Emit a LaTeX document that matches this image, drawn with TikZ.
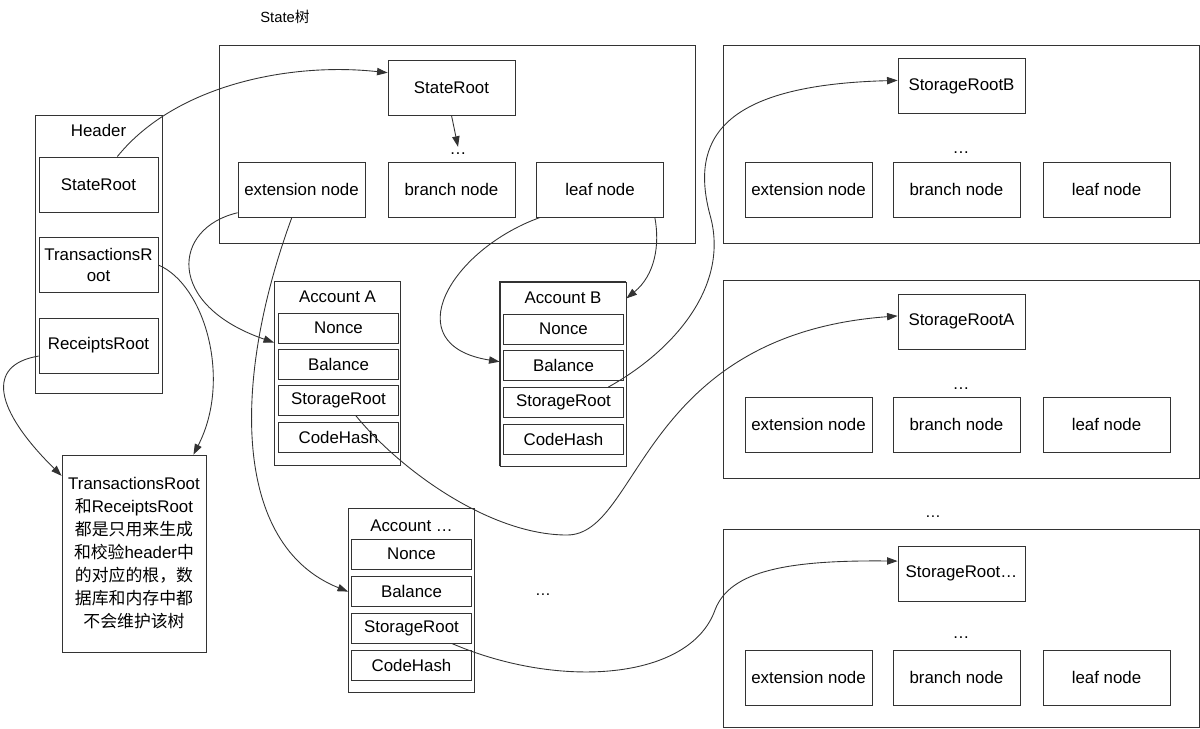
\documentclass[tikz,border=0pt]{standalone}
\usepackage{fontspec}
\setmainfont{Liberation Sans}
\newfontfamily\zhfont{Noto Sans CJK SC}
\usetikzlibrary{arrows.meta}

\tikzset{
  tnode/.style={draw, minimum width=2.54cm, minimum height=1.1cm, inner sep=0pt},
  fld/.style={draw, minimum width=2.4cm, minimum height=0.6cm, inner sep=0pt},
  grp/.style={draw, inner sep=0pt},
  acct/.style={grp, minimum width=2.52cm, minimum height=3.68cm},
  trie/.style={grp, minimum width=9.52cm, minimum height=3.96cm},
  arr/.style={-{Triangle[length=6pt,width=4.2pt]}},
}

\begin{document}
\begin{tikzpicture}[x=0.02cm, y=-0.02cm, line width=0.5pt, draw=black!80, font=\fontsize{9.6}{11.5}\selectfont]
  \useasboundingbox (0,0) rectangle (1200,728);

  % State tree
  \node[font=\fontsize{8.4}{10}\selectfont] (statelbl) at (285,17) {State{\zhfont 树}};
  \node[trie] (statetree) at (457,144) {};
  \node[tnode] (ssr) at (451.5,87.5) {StateRoot};
  \node (sdots) at (458,154) {\dots};
  \node[tnode] (sext) at (301.5,189.5) {extension node};
  \node[tnode] (sbr) at (451.5,189.5) {branch node};
  \node[tnode] (sleaf) at (600,189.5) {leaf node};

  % Header
  \node[grp, minimum width=2.54cm, minimum height=5.56cm] (header) at (98.5,254) {};
  \node (headerlbl) at (98.5,130) {Header};
  \node[fld, minimum width=2.38cm, minimum height=1.1cm] (hsr) at (98.5,184.5) {StateRoot};
  \node[fld, minimum width=2.38cm, minimum height=1.1cm, align=center] (htr) at (98.5,265) {TransactionsR\\oot};
  \node[fld, minimum width=2.38cm, minimum height=1.1cm] (hrr) at (98.5,345.5) {ReceiptsRoot};

  \node[grp, minimum width=2.88cm, minimum height=3.94cm, align=center, font=\fontsize{9.6}{13.1}\selectfont] (note) at (134,553.5)
    {TransactionsRoot\\{\zhfont 和}ReceiptsRoot\\{\zhfont 都是只用来生成}\\{\zhfont 和校验}header{\zhfont 中}\\{\zhfont 的对应的根，数}\\{\zhfont 据库和内存中都}\\{\zhfont 不会维护该树}};

  % Accounts
  \node[acct] (acta) at (337.5,373.5) {};
  \node (actalbl) at (337.5,297) {Account A};
  \node[fld] (anonce) at (338.5,328) {Nonce};
  \node[fld] (abal) at (338.5,364) {Balance};
  \node[fld] (asr) at (338.5,400) {StorageRoot};
  \node[fld] (ahash) at (338.5,437) {CodeHash};

  \node[acct] (actb) at (563,374) {};
  \draw[line width=1.1pt] (actb.south west) -- (actb.north west) -- (actb.north east);
  \node (actblbl) at (563,298) {Account B};
  \node[fld] (bnonce) at (563.5,329) {Nonce};
  \node[fld] (bbal) at (563.5,365) {Balance};
  \node[fld] (bsr) at (563.5,402.5) {StorageRoot};
  \node[fld] (bhash) at (563.5,439) {CodeHash};

  \node[acct] (actd) at (411.5,600.5) {};
  \node (actdlbl) at (411.5,526) {Account \dots};
  \node[fld] (dnonce) at (411.5,554) {Nonce};
  \node[fld] (dbal) at (411.5,591) {Balance};
  \node[fld] (dsr) at (411.5,628) {StorageRoot};
  \node[fld] (dhash) at (411.5,665) {CodeHash};

  \node[font=\small] (adots) at (543,595) {\dots};

  % Storage trees
  \node[trie] (storeb) at (961,144) {};
  \node[tnode] (srb) at (961.5,86) {StorageRootB};
  \node (bdots) at (961,153) {\dots};
  \node[tnode] (bext) at (808.5,189.5) {extension node};
  \node[tnode] (bbr) at (956.5,189.5) {branch node};
  \node[tnode] (bleaf) at (1106.5,189.5) {leaf node};

  \node[trie] (storea) at (961,379.5) {};
  \node[tnode] (sra) at (961.5,321.5) {StorageRootA};
  \node (adots2) at (961,389) {\dots};
  \node[tnode] (aext) at (808.5,424.5) {extension node};
  \node[tnode] (abr) at (956.5,424.5) {branch node};
  \node[tnode] (aleaf) at (1106.5,424.5) {leaf node};

  \node[font=\small] (midots) at (933,517) {\dots};

  \node[trie] (stored) at (961,628.5) {};
  \node[tnode] (srd) at (961.5,573.5) {StorageRoot\dots};
  \node (ddots) at (961,638) {\dots};
  \node[tnode] (dext) at (808.5,677.5) {extension node};
  \node[tnode] (dbr) at (956.5,677.5) {branch node};
  \node[tnode] (dleaf) at (1106.5,677.5) {leaf node};

  % Connectors
  \draw[arr] (hsr.56) .. controls (175,85) and (290,62) .. (ssr.167);
  \draw[arr] (ssr.south) -- (sdots.north);
  \draw[arr] (htr.east) .. controls (205,285) and (232,380) .. (note.59);
  \draw[arr] (hrr.190) .. controls (-15,365) and (-5,410) .. (note.133);
  \draw[arr] (sext.200) .. controls (172,228) and (165,305) .. (acta.154);
  \draw[arr] (sext.251) .. controls (232,380) and (232,545) .. (actd.172);
  \draw[arr] (sleaf.205) .. controls (450,250) and (395,345) .. (actb.169);
  \draw[arr] (sleaf.333) .. controls (660,245) and (655,275) .. (actb.50);
  \draw[arr] (bsr.19) .. controls (675,350) and (730,285) .. (710,215) .. controls (690,140) and (720,85) .. (srb.175);
  \draw[arr] (asr.318) .. controls (400,470) and (490,535) .. (567,535) .. controls (640,535) and (640,335) .. (sra.175);
  \draw[arr] (dsr.339) .. controls (560,690) and (690,680) .. (715,610) .. controls (730,570) and (790,560) .. (srd.169);
\end{tikzpicture}
\end{document}
